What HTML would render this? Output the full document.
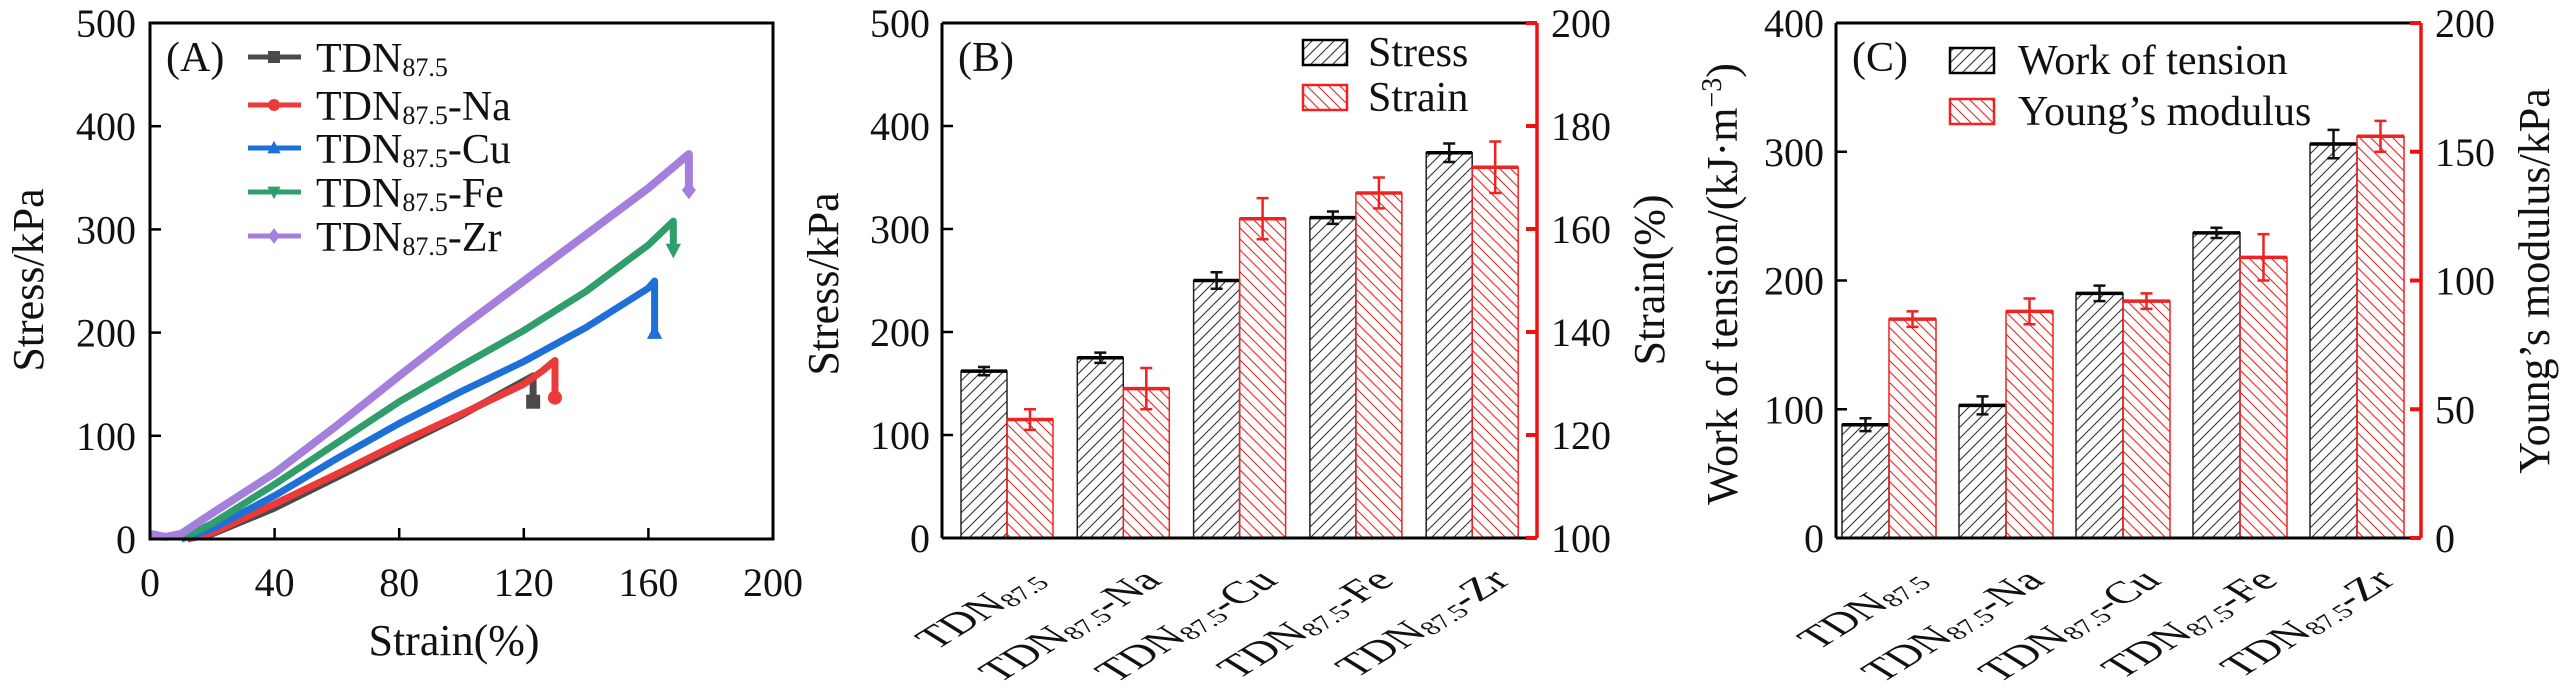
<!DOCTYPE html>
<html><head><meta charset="utf-8">
<style>
html,body{margin:0;padding:0;background:#fff;}
svg, svg text, svg tspan{font-family:"Liberation Serif","DejaVu Serif",serif;}
</style></head>
<body>
<svg id="chart" width="2567" height="685" viewBox="0 0 2567 685" xmlns="http://www.w3.org/2000/svg" font-family="Liberation Serif, DejaVu Serif, serif">
<defs>
<pattern id="hatchBlack" patternUnits="userSpaceOnUse" width="11" height="11">
<path d="M-1,12 L12,-1 M-3,3 L3,-3 M8,14 L14,8" stroke="#333" stroke-width="1.1"/>
</pattern>
<pattern id="hatchRed" patternUnits="userSpaceOnUse" width="11" height="11">
<path d="M-1,-1 L12,12 M-3,8 L3,14 M8,-3 L14,3" stroke="#ee2222" stroke-width="1.1"/>
</pattern>
</defs>
<g id="panelA"></g>
<g id="panelB"></g>
<g id="panelC"></g>
</svg>
<script>
// ---------- Panel A data ----------
const seriesNames = ["TDN87.5", "TDN87.5-Na", "TDN87.5-Cu", "TDN87.5-Fe", "TDN87.5-Zr"];
const strainBlack = [12, 20, 40, 60, 80, 100, 123];
const stressBlack = [0, 5, 30, 60, 90, 120, 158];
const strainRed = [12, 20, 40, 60, 80, 100, 120, 126, 130];
const stressRed = [0, 6, 34, 63, 93, 121, 150, 163, 173];
const strainBlue = [10, 20, 40, 60, 80, 100, 120, 140, 160, 162];
const stressBlue = [0, 10, 42, 78, 112, 143, 172, 205, 243, 250];
const strainGreen = [10, 20, 40, 60, 80, 100, 120, 140, 160, 168];
const stressGreen = [0, 15, 53, 93, 133, 168, 202, 240, 285, 308];
const strainPurple = [0, 5, 10, 20, 40, 60, 80, 100, 120, 140, 160, 173];
const stressPurple = [5, 2, 5, 25, 64, 110, 158, 205, 250, 295, 340, 373];
const breakStress = [133, 137, 200, 280, 338];
const xTicksA = [0, 40, 80, 120, 160, 200];
const yTicksA = [0, 100, 200, 300, 400, 500];

// ---------- Panel B data ----------
const categories = ["TDN87.5", "TDN87.5-Na", "TDN87.5-Cu", "TDN87.5-Fe", "TDN87.5-Zr"];
const stressValues = [162, 175, 250, 311, 374];
const stressErr = [4, 5, 8, 6, 9];
const strainValues = [123, 129, 162, 167, 172];
const strainErr = [2, 4, 4, 3, 5];
const yTicksBLeft = [0, 100, 200, 300, 400, 500];
const yTicksBRight = [100, 120, 140, 160, 180, 200];

// ---------- Panel C data ----------
const workValues = [88, 103, 190, 237, 306];
const workErr = [5, 7, 6, 4, 11];
const modulusValues = [85, 88, 92, 109, 156];
const modulusErr = [3, 5, 3, 9, 6];
const yTicksCLeft = [0, 100, 200, 300, 400];
const yTicksCRight = [0, 50, 100, 150, 200];

const NS = "http://www.w3.org/2000/svg";
const FF = "Liberation Serif, DejaVu Serif, serif";
function mk(parent, tag, attrs) {
  const e = document.createElementNS(NS, tag);
  for (const k in attrs) e.setAttribute(k, attrs[k]);
  if (tag === "text") e.setAttribute("font-family", FF);
  parent.appendChild(e);
  return e;
}
function subText(parent, x, y, size, base, sub, rest, anchor) {
  const t = mk(parent, "text", {x: x, y: y, "font-size": size, "text-anchor": anchor || "start", fill: "#111"});
  const a = document.createElementNS(NS, "tspan"); a.textContent = base; t.appendChild(a);
  const b = document.createElementNS(NS, "tspan"); b.textContent = sub;
  b.setAttribute("font-size", Math.round(size * 0.62)); b.setAttribute("dy", Math.round(size * 0.1)); t.appendChild(b);
  if (rest) {
    const c = document.createElementNS(NS, "tspan"); c.textContent = rest;
    c.setAttribute("dy", -Math.round(size * 0.1)); t.appendChild(c);
  }
  return t;
}
function splitName(n) {
  const i = n.indexOf("-");
  return {base: "TDN", sub: "87.5", rest: i >= 0 ? n.slice(i) : ""};
}
function marker(parent, shape, x, y, s, color) {
  let e;
  if (shape === "square") e = mk(parent, "rect", {x: x - s, y: y - s, width: 2 * s, height: 2 * s, fill: color});
  else if (shape === "circle") e = mk(parent, "circle", {cx: x, cy: y, r: s, fill: color});
  else if (shape === "up") e = mk(parent, "polygon", {points: `${x},${y - s * 1.2} ${x - s * 1.1},${y + s * 0.9} ${x + s * 1.1},${y + s * 0.9}`, fill: color});
  else if (shape === "down") e = mk(parent, "polygon", {points: `${x},${y + s * 1.2} ${x - s * 1.1},${y - s * 0.9} ${x + s * 1.1},${y - s * 0.9}`, fill: color});
  else e = mk(parent, "polygon", {points: `${x},${y - s * 1.3} ${x + s},${y} ${x},${y + s * 1.3} ${x - s},${y}`, fill: color});
  return e;
}

// =============== PANEL A ===============
(function () {
  const g = document.getElementById("panelA");
  const L = 150, R = 773, T = 23, B = 539;
  const xs = v => L + (v - 0) / 200 * (R - L);
  const ys = v => B - (v - 0) / 500 * (B - T);
  const colors = ["#4a4a4a", "#ea3a3a", "#1f6fd8", "#2f9e6b", "#a57fdc"];
  const shapes = ["square", "circle", "up", "down", "diamond"];
  const sx = [strainBlack, strainRed, strainBlue, strainGreen, strainPurple];
  const sy = [stressBlack, stressRed, stressBlue, stressGreen, stressPurple];
  for (let i = 0; i < 5; i++) {
    const sg = mk(g, "g", {});
    
    
    let d = "";
    for (let j = 0; j < sx[i].length; j++) d += (j ? "L" : "M") + xs(sx[i][j]).toFixed(1) + "," + ys(sy[i][j]).toFixed(1);
    const lx = xs(sx[i][sx[i].length - 1]);
    d += "L" + lx.toFixed(1) + "," + ys(breakStress[i]).toFixed(1);
    mk(sg, "path", {d: d, fill: "none", stroke: colors[i], "stroke-width": i === 4 ? 8 : 7, "stroke-linejoin": "round"});
    const m = marker(sg, shapes[i], lx, ys(breakStress[i]), 7, colors[i]);
    
    
  }
  const fr = mk(g, "rect", {x: L, y: T, width: R - L, height: B - T, fill: "none", stroke: "#000", "stroke-width": 3});
  
  
  const xa = mk(g, "g", {});
  
  
  xTicksA.forEach(v => {
    mk(xa, "line", {x1: xs(v), x2: xs(v), y1: B, y2: B - 11, stroke: "#000", "stroke-width": 2.5});
    const t = mk(xa, "text", {x: xs(v), y: 596, "font-size": 40, "text-anchor": "middle", fill: "#111"});
    t.textContent = v;
  });
  const ya = mk(g, "g", {});
  
  
  yTicksA.forEach(v => {
    mk(ya, "line", {x1: L, x2: L + 11, y1: ys(v), y2: ys(v), stroke: "#000", "stroke-width": 2.5});
    const t = mk(ya, "text", {x: 136, y: ys(v) + 14, "font-size": 40, "text-anchor": "end", fill: "#111"});
    t.textContent = v;
  });
  const xt = mk(g, "text", {x: 454, y: 655, "font-size": 44, "text-anchor": "middle", fill: "#111"});
  xt.textContent = "Strain(%)";
  
  
  const yt = mk(g, "text", {x: 0, y: 0, "font-size": 44, "text-anchor": "middle", fill: "#111", transform: "translate(43,280) rotate(-90)"});
  yt.textContent = "Stress/kPa";
  
  
  const pl = mk(g, "text", {x: 166, y: 71, "font-size": 42, fill: "#111"});
  pl.textContent = "(A)";
  
  
  const lg = mk(g, "g", {});
  
  
  const rowsY = [57, 105, 148, 192, 236];
  for (let i = 0; i < 5; i++) {
    const e = mk(lg, "g", {});
    
    
    mk(e, "line", {x1: 248, x2: 301, y1: rowsY[i], y2: rowsY[i], stroke: colors[i], "stroke-width": 5});
    marker(e, shapes[i], 274, rowsY[i], 6, colors[i]);
    const n = splitName(seriesNames[i]);
    subText(e, 316, rowsY[i] + 15, 42, n.base, n.sub, n.rest);
  }
})();

// =============== Bar panels ===============
function barPanel(id, cfg) {
  const g = document.getElementById(id);
  const {L, R, T, B, c0, step, bw, lmax, rmin, rmax} = cfg;
  const yl = v => B - v / lmax * (B - T);
  const yr = v => B - (v - rmin) / (rmax - rmin) * (B - T);
  const cx = i => c0 + step * i;
  for (let i = 0; i < categories.length; i++) {
    const grp = mk(g, "g", {});
    
    
    const v1 = cfg.lv[i], e1 = cfg.le[i];
    const b1 = mk(grp, "rect", {x: cx(i) - bw, y: yl(v1), width: bw, height: B - yl(v1), fill: "url(#hatchBlack)", stroke: "#222", "stroke-width": 1.5});
    
    
    mk(grp, "line", {x1: cx(i) - bw, x2: cx(i), y1: yl(v1), y2: yl(v1), stroke: "#000", "stroke-width": 3.5});
    const v2 = cfg.rv[i], e2 = cfg.re[i];
    const b2 = mk(grp, "rect", {x: cx(i), y: yr(v2), width: bw, height: B - yr(v2), fill: "url(#hatchRed)", stroke: "#ee2222", "stroke-width": 1.5});
    
    
    mk(grp, "line", {x1: cx(i), x2: cx(i) + bw, y1: yr(v2), y2: yr(v2), stroke: "#ee2222", "stroke-width": 3.5});
    const ex1 = cx(i) - bw / 2, ex2 = cx(i) + bw / 2;
    const eb1 = mk(grp, "path", {d: `M${ex1},${yl(v1 + e1)}L${ex1},${yl(v1 - e1)}M${ex1 - 6},${yl(v1 + e1)}L${ex1 + 6},${yl(v1 + e1)}M${ex1 - 6},${yl(v1 - e1)}L${ex1 + 6},${yl(v1 - e1)}`, stroke: "#111", "stroke-width": 2.5, fill: "none"});
    
    
    const eb2 = mk(grp, "path", {d: `M${ex2},${yr(v2 + e2)}L${ex2},${yr(v2 - e2)}M${ex2 - 6},${yr(v2 + e2)}L${ex2 + 6},${yr(v2 + e2)}M${ex2 - 6},${yr(v2 - e2)}L${ex2 + 6},${yr(v2 - e2)}`, stroke: "#ee2222", "stroke-width": 2.5, fill: "none"});
    
    
    const n = splitName(categories[i]);
    const lab = mk(g, "g", {transform: `translate(${cx(i) + 40},${B + 44}) scale(1,0.62) rotate(-45)`});
    
    
    subText(lab, 0, 0, 50, n.base, n.sub, n.rest, "end");
  }
  mk(g, "line", {x1: L, x2: R, y1: T, y2: T, stroke: "#000", "stroke-width": 3});
  mk(g, "line", {x1: L, x2: L, y1: T, y2: B, stroke: "#000", "stroke-width": 3});
  mk(g, "line", {x1: L, x2: R, y1: B, y2: B, stroke: "#000", "stroke-width": 3});
  const ra = mk(g, "line", {x1: R, x2: R, y1: T, y2: B, stroke: "#ee1111", "stroke-width": 3.5});
  
  
  const la = mk(g, "g", {});
  
  
  cfg.lt.forEach(v => {
    mk(la, "line", {x1: L, x2: L + 11, y1: yl(v), y2: yl(v), stroke: "#000", "stroke-width": 2.5});
    const t = mk(la, "text", {x: L - 12, y: yl(v) + 14, "font-size": 40, "text-anchor": "end", fill: "#111"});
    t.textContent = v;
  });
  const rta = mk(g, "g", {});
  
  
  cfg.rt.forEach(v => {
    mk(rta, "line", {x1: R - 11, x2: R, y1: yr(v), y2: yr(v), stroke: "#ee1111", "stroke-width": 4});
    const t = mk(rta, "text", {x: R + 14, y: yr(v) + 14, "font-size": 40, fill: "#111"});
    t.textContent = v;
  });
  const ylt = mk(g, "text", {x: 0, y: 0, "font-size": 44, "text-anchor": "middle", fill: "#111", transform: `translate(${cfg.ylx},${cfg.yly}) rotate(-90)`});
  if (cfg.ylsup) {
    const a = document.createElementNS(NS, "tspan"); a.textContent = cfg.yl; ylt.appendChild(a);
    const b = document.createElementNS(NS, "tspan"); b.textContent = "−3"; b.setAttribute("font-size", 28); b.setAttribute("dy", -16); ylt.appendChild(b);
    const c = document.createElementNS(NS, "tspan"); c.textContent = ")"; c.setAttribute("dy", 16); ylt.appendChild(c);
  } else ylt.textContent = cfg.yl;
  
  
  const yrt = mk(g, "text", {x: 0, y: 0, "font-size": 44, "text-anchor": "middle", fill: "#111", transform: `translate(${cfg.yrx},${cfg.yry}) rotate(-90)`});
  yrt.textContent = cfg.yr;
  
  
  const pl = mk(g, "text", {x: cfg.plx, y: 71, "font-size": 42, fill: "#111"});
  pl.textContent = cfg.pl;
  
  
  const lg = mk(g, "g", {});
  
  
  const e1 = mk(lg, "g", {});
  
  
  mk(e1, "rect", {x: cfg.lgx, y: cfg.lgy1 - 12, width: 44, height: 25, fill: "url(#hatchBlack)", stroke: "#000", "stroke-width": 2.5});
  const t1 = mk(e1, "text", {x: cfg.lgtx, y: cfg.lgy1 + 14, "font-size": 42, fill: "#111"});
  t1.textContent = cfg.lgl1;
  const e2 = mk(lg, "g", {});
  
  
  mk(e2, "rect", {x: cfg.lgx, y: cfg.lgy2 - 12, width: 44, height: 25, fill: "url(#hatchRed)", stroke: "#ee2222", "stroke-width": 2.5});
  const t2 = mk(e2, "text", {x: cfg.lgtx, y: cfg.lgy2 + 14, "font-size": 42, fill: "#111"});
  t2.textContent = cfg.lgl2;
}

barPanel("panelB", {
  L: 942, R: 1537, T: 23, B: 538, c0: 1007, step: 116.3, bw: 46,
  lmax: 500, rmin: 100, rmax: 200,
  lv: stressValues, le: stressErr, rv: strainValues, re: strainErr,
  lt: yTicksBLeft, rt: yTicksBRight, lname: "stress", rname: "strain",
  yl: "Stress/kPa", ylx: 838, yly: 284, yr: "Strain(%)", yrx: 1664, yry: 280,
  pl: "(B)", plx: 958,
  lgx: 1303, lgy1: 52, lgy2: 97, lgtx: 1368, lgl1: "Stress", lgl2: "Strain"
});
barPanel("panelC", {
  L: 1836, R: 2421, T: 23, B: 538, c0: 1889, step: 117, bw: 47,
  lmax: 400, rmin: 0, rmax: 200,
  lv: workValues, le: workErr, rv: modulusValues, re: modulusErr,
  lt: yTicksCLeft, rt: yTicksCRight, lname: "work-of-tension", rname: "youngs-modulus",
  yl: "Work of tension/(kJ·m", ylsup: true, ylx: 1737, yly: 284,
  yr: "Young’s modulus/kPa", yrx: 2549, yry: 281,
  pl: "(C)", plx: 1852,
  lgx: 1950, lgy1: 60, lgy2: 111, lgtx: 2018, lgl1: "Work of tension", lgl2: "Young’s modulus"
});
</script>
</body></html>
